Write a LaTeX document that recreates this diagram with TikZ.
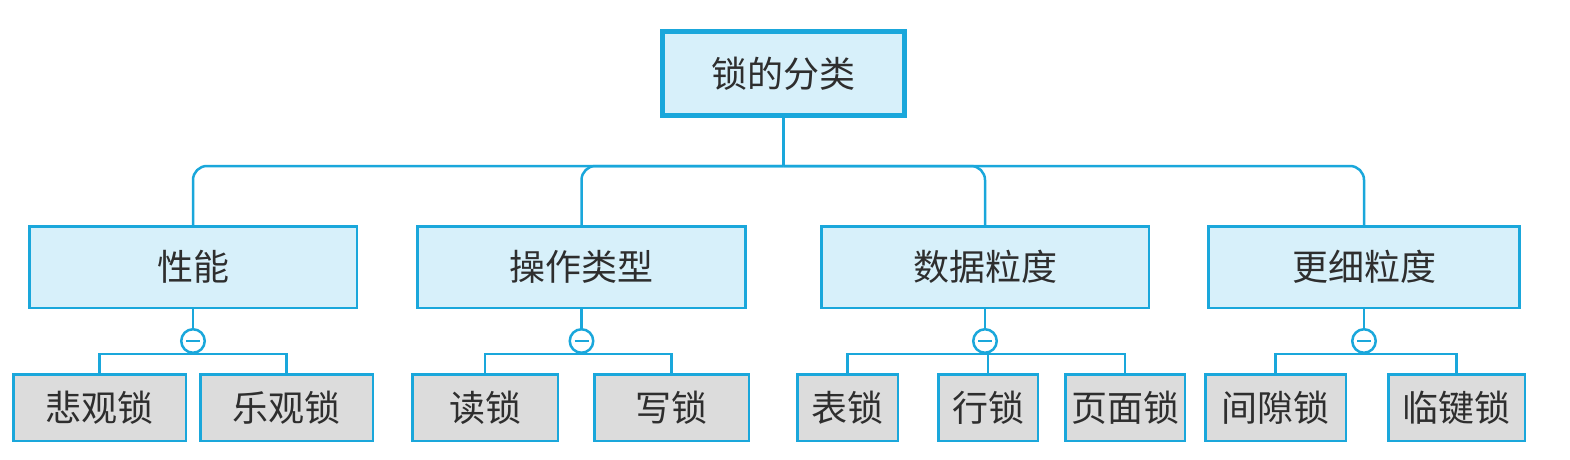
\documentclass[tikz,border=0pt]{standalone}
\usepackage{fontspec}
\setmainfont{Noto Sans CJK SC}
\usetikzlibrary{positioning}
\definecolor{lockblue}{HTML}{1AA7DB}
\definecolor{lockfill}{HTML}{D7F0FA}
\definecolor{leafgray}{HTML}{DCDCDC}
\tikzset{
    x=1pt, y=-1pt, % pixel units, y runs downwards
    every node/.style={font=\fontsize{36}{40}\selectfont, text=black!82},
    root/.style={draw=lockblue, line width=5pt, fill=lockfill, minimum width=242pt, minimum height=84pt, inner sep=0pt}, % the top box
    cat/.style={draw=lockblue, line width=2.5pt, fill=lockfill, minimum height=81.5pt, inner sep=0pt}, % second row
    leaf/.style={draw=lockblue, line width=2.5pt, fill=leafgray, minimum height=66.5pt, inner sep=0pt}, % bottom row
    knot/.style={circle, draw=lockblue, line width=2.5pt, fill=white, minimum size=23.5pt, inner sep=0pt,
        path picture={\draw[lockblue, line width=2.2pt] ([xshift=-7pt]path picture bounding box.center) -- ([xshift=7pt]path picture bounding box.center);}}, % circle with a minus sign
    link/.style={draw=lockblue, line width=2.5pt},
}

\begin{document}
\begin{tikzpicture}
    \useasboundingbox (0,0) rectangle (1570,460);

    \node[root] (R) at (783.5,73.5) {锁的分类};

    \node[cat, minimum width=327.5pt] (P) at (193,267) {性能};
    \node[cat, minimum width=328pt] (O) at (581.5,267) {操作类型};
    \node[cat, minimum width=327.5pt] (D) at (985,267) {数据粒度};
    \node[cat, minimum width=311pt] (F) at (1364,267) {更细粒度};

    \node[knot, below=19pt of P] (kP) {};
    \node[knot, below=19pt of O] (kO) {};
    \node[knot, below=19pt of D] (kD) {};
    \node[knot, below=19pt of F] (kF) {};

    \node[leaf, minimum width=172.5pt] (P1) at (99.5,407.5) {悲观锁};
    \node[leaf, minimum width=172.5pt] (P2) at (286.5,407.5) {乐观锁};
    \node[leaf, minimum width=145.5pt] (O1) at (485,407.5) {读锁};
    \node[leaf, minimum width=154.5pt] (O2) at (671.5,407.5) {写锁};
    \node[leaf, minimum width=100.5pt] (D1) at (847.5,407.5) {表锁};
    \node[leaf, minimum width=99.5pt] (D2) at (988,407.5) {行锁};
    \node[leaf, minimum width=119.5pt] (D3) at (1125,407.5) {页面锁};
    \node[leaf, minimum width=140.5pt] (F1) at (1275.5,407.5) {间隙锁};
    \node[leaf, minimum width=136.5pt] (F2) at (1456.5,407.5) {临键锁};

    % top level bus
    \coordinate (bus) at (783.5,166);
    \draw[link] (R) -- (bus);
    \foreach \c in {P,O,D,F}
        \draw[link, rounded corners=14pt] (bus) -| (\c.north);

    % second level
    \foreach \c in {P,O,D,F}
        \draw[link] (\c) -- (k\c);
    \foreach \k/\l in {P/P1,P/P2,O/O1,O/O2,D/D1,D/D2,D/D3,F/F1,F/F2}
        \draw[link] (k\k.south) -| (\l.north);
\end{tikzpicture}
\end{document}
